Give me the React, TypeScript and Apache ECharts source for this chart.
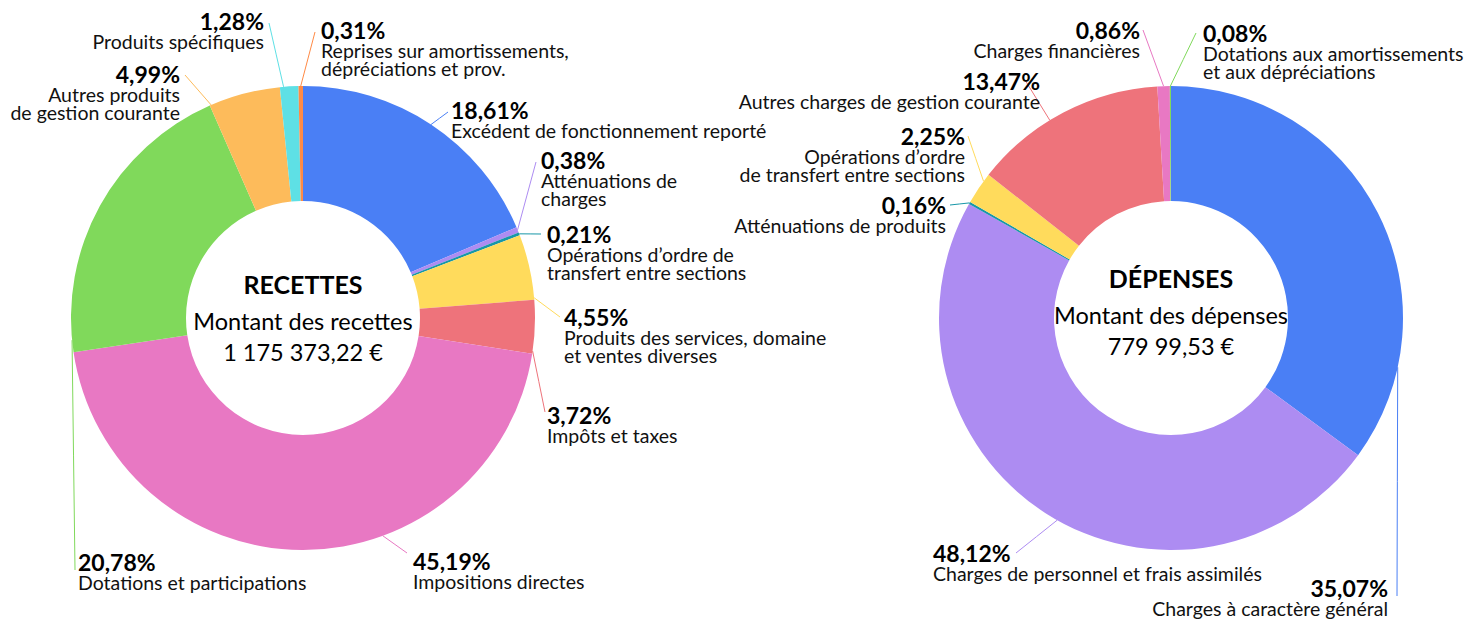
import React, { useEffect, useRef } from 'react';
import * as echarts from 'echarts';

const recettesNames = [
  'Excédent de fonctionnement reporté',
  'Atténuations de\ncharges',
  'Opérations d’ordre de\ntransfert entre sections',
  'Produits des services, domaine\net ventes diverses',
  'Impôts et taxes',
  'Impositions directes',
  'Dotations et participations',
  'Autres produits\nde gestion courante',
  'Produits spécifiques',
  'Reprises sur amortissements,\ndépréciations et prov.',
];
const recettesValues = [18.61, 0.38, 0.21, 4.55, 3.72, 45.19, 20.78, 4.99, 1.28, 0.31];

const depensesNames = [
  'Charges à caractère général',
  'Charges de personnel et frais assimilés',
  'Atténuations de produits',
  'Opérations d’ordre\nde transfert entre sections',
  'Autres charges de gestion courante',
  'Charges financières',
  'Dotations aux amortissements\net aux dépréciations',
];
const depensesValues = [35.07, 48.12, 0.16, 2.25, 13.47, 0.86, 0.08];

const recettesTitle = 'RECETTES';
const recettesSubtitle = 'Montant des recettes';
const recettesTotal = '1 175 373,22 €';
const depensesTitle = 'DÉPENSES';
const depensesSubtitle = 'Montant des dépenses';
const depensesTotal = '779 99,53 €';

const palette = ['#4A7FF5', '#AD8CF2', '#1797A8', '#FFDB5C', '#EE737B', '#E878C3', '#80D95B', '#FDBB5B', '#5EE0E5', '#FF8A45'];

const FONT = 'Lato, "Noto Sans", sans-serif';
const PCT_LH = 22;
const NAME_LH = 18.5;
const R_IN = 117;
const R_OUT = 232;
const C1 = [303, 318];
const C2 = [1171, 318];

type LabelCfg = { x: number; cy: number; align: 'left' | 'right'; ex: number; ey: number; a: number };

// label placement (x, pct centre y, alignment, leader end, anchor fraction inside slice)
const recettesLabels: LabelCfg[] = [
  { x: 451, cy: 110, align: 'left', ex: 448, ey: 112, a: 0.5 },
  { x: 541, cy: 160, align: 'left', ex: 536, ey: 162, a: 0.5 },
  { x: 547, cy: 234, align: 'left', ex: 541, ey: 234, a: 0.5 },
  { x: 564, cy: 317, align: 'left', ex: 560, ey: 317, a: 0.97 },
  { x: 547, cy: 415, align: 'left', ex: 545, ey: 412, a: 0.95 },
  { x: 413, cy: 561, align: 'left', ex: 407, ey: 553, a: 0.375 },
  { x: 78, cy: 562, align: 'left', ex: 75, ey: 570, a: 0.04 },
  { x: 180, cy: 74, align: 'right', ex: 185, ey: 75, a: 0.02 },
  { x: 264, cy: 21, align: 'right', ex: 269, ey: 23, a: 0.2 },
  { x: 321, cy: 30, align: 'left', ex: 315, ey: 32, a: 0.5 },
];

const depensesLabels: LabelCfg[] = [
  { x: 1388, cy: 588, align: 'right', ex: 1397, ey: 596, a: 0.81 },
  { x: 933, cy: 553, align: 'left', ex: 1016, ey: 553, a: 0.48 },
  { x: 946, cy: 205, align: 'right', ex: 950, ey: 205, a: 0.5 },
  { x: 965, cy: 136, align: 'right', ex: 968, ey: 136, a: 0.75 },
  { x: 1040, cy: 81, align: 'right', ex: 1025, ey: 80, a: 0.42 },
  { x: 1140, cy: 30, align: 'right', ex: 1143, ey: 30, a: 0.5 },
  { x: 1203, cy: 33, align: 'left', ex: 1196, ey: 33, a: 0.5 },
];

function fmtPct(v: number) {
  return v.toFixed(2).replace('.', ',') + '%';
}

function makeLayout(values: number[], center: number[], cfg: LabelCfg[]) {
  const total = values.reduce((s, v) => s + v, 0);
  const cum: number[] = [];
  let c = 0;
  values.forEach((v) => {
    cum.push(c);
    c += v;
  });
  return (params: any) => {
    const i = params.dataIndex;
    const k = cfg[i];
    const frac = (cum[i] + values[i] * k.a) / total;
    const th = frac * 2 * Math.PI;
    const sx = center[0] + R_OUT * Math.sin(th);
    const sy = center[1] - R_OUT * Math.cos(th);
    return {
      x: k.x,
      y: k.cy - PCT_LH / 2,
      align: k.align,
      verticalAlign: 'top',
      labelLinePoints: [
        [sx, sy],
        [(sx + k.ex) / 2, (sy + k.ey) / 2],
        [k.ex, k.ey],
      ],
    };
  };
}

function makeSeries(names: string[], values: number[], center: number[], cfg: LabelCfg[]) {
  return {
    type: 'pie',
    center,
    radius: [R_IN, R_OUT],
    startAngle: 90,
    clockwise: true,
    avoidLabelOverlap: false,
    silent: true,
    itemStyle: { borderWidth: 0 },
    data: names.map((n, i) => ({ name: n, value: values[i], itemStyle: { color: palette[i] } })),
    label: {
      show: true,
      position: 'outside',
      formatter: (p: any) =>
        `{p|${fmtPct(p.value)}}\n` + String(p.name).split('\n').map((l: string) => `{n|${l}}`).join('\n'),
      rich: {
        p: { fontFamily: FONT, fontSize: 23, fontWeight: 'bold', lineHeight: PCT_LH, color: '#000' },
        n: { fontFamily: FONT, fontSize: 19.5, lineHeight: NAME_LH, color: '#111' },
      },
    },
    labelLine: { show: true, length: 10, length2: 10, lineStyle: { width: 1 } },
    labelLayout: makeLayout(values, center, cfg),
  };
}

function centerTexts(center: number[], dy: number, title: string, sub: string, total: string) {
  return [
    {
      type: 'text',
      x: center[0],
      y: center[1] - 34 + dy,
      style: { text: title, fontFamily: FONT, fontSize: 25, fontWeight: 'bold', fill: '#000', align: 'center', verticalAlign: 'middle' },
    },
    {
      type: 'text',
      x: center[0],
      y: center[1] + 3 + dy,
      style: { text: sub, fontFamily: FONT, fontSize: 23.5, fill: '#000', align: 'center', verticalAlign: 'middle' },
    },
    {
      type: 'text',
      x: center[0],
      y: center[1] + 34 + dy,
      style: { text: total, fontFamily: FONT, fontSize: 23.5, fill: '#000', align: 'center', verticalAlign: 'middle' },
    },
  ];
}

export default function App() {
  const ref = useRef<HTMLDivElement>(null);
  useEffect(() => {
    document.body.style.margin = '0';
    const chart = echarts.init(ref.current!, null, { renderer: 'svg' });
    chart.setOption({
      animation: false,
      backgroundColor: '#ffffff',
      series: [
        makeSeries(recettesNames, recettesValues, C1, recettesLabels),
        makeSeries(depensesNames, depensesValues, C2, depensesLabels),
      ],
      graphic: [
        ...centerTexts(C1, 0, recettesTitle, recettesSubtitle, recettesTotal),
        ...centerTexts(C2, -6, depensesTitle, depensesSubtitle, depensesTotal),
      ],
    });
    return () => chart.dispose();
  }, []);
  return <div ref={ref} style={{ width: 1484, height: 622 }} />;
}
